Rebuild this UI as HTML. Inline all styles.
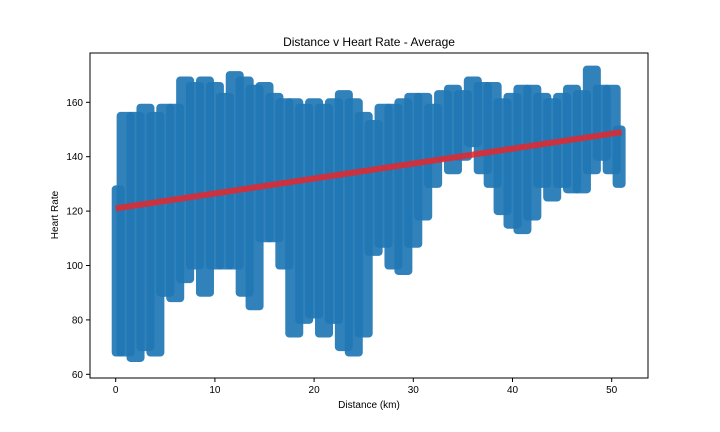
<!DOCTYPE html>
<html><head><meta charset="utf-8"><style>
html,body{margin:0;padding:0;background:#fff;}
svg{display:block;font-family:"Liberation Sans","DejaVu Sans",sans-serif;}
</style></head><body>
<svg id="chart" width="720" height="432" viewBox="0 0 720 432">
<text x="369" y="46" font-size="12" text-anchor="middle">Distance v Heart Rate - Average</text>
<g id="marks"></g>
<g id="axes"></g>
<text x="369" y="408" font-size="10" text-anchor="middle">Distance (km)</text>
<text x="58" y="215" font-size="10" text-anchor="middle" transform="rotate(-90 58 215)">Heart Rate</text>
</svg>
<script>
const binKm = [0,1,2,3,4,5,6,7,8,9,10,11,12,13,14,15,16,17,18,19,20,21,22,23,24,25,26,27,28,29,30,31,32,33,34,35,36,37,38,39,40,41,42,43,44,45,46,47,48,49,50,51];
const hrLow = [68,68,66,70,68,90,88,95,100,90,100,100,100,90,85,110,110,100,75,80,82,75,80,70,68,75,105,108,100,98,108,118,130,140,135,140,145,135,130,120,115,113,118,130,125,130,128,128,135,140,135,130];
const hrHigh = [128,155,155,158,155,158,158,168,166,168,166,162,170,168,165,166,162,160,160,158,160,158,160,163,160,155,152,158,158,160,162,162,158,163,165,163,168,166,166,160,162,165,165,162,160,162,165,163,172,165,165,150];
const fitX = [0,51];
const fitY = [121,149];
const xTicks = [0,10,20,30,40,50];
const yTicks = [60,80,100,120,140,160];

const L=90,T=53,R=648,B=378;
const xs = v => 115.7 + v*9.92;
const ys = v => 374.3 - (v-60)*2.72;
const NS="http://www.w3.org/2000/svg";
const marks=document.getElementById('marks');
const axes=document.getElementById('axes');
function mk(tag,attrs,parent){const e=document.createElementNS(NS,tag);for(const k in attrs)e.setAttribute(k,attrs[k]);parent.appendChild(e);return e;}

for(let i=0;i<binKm.length;i++){
  const last = i===binKm.length-1;
  const x0 = xs(binKm[i]) - (i===0 ? 4 : 9);
  const x1 = xs(binKm[i]) + (last ? 4 : 9);
  const y0 = ys(hrHigh[i]) - 4, y1 = ys(hrLow[i]) + 4;
  const r = mk('rect',{x:x0,y:y0,width:x1-x0,height:y1-y0,rx:4,fill:'#2077b4','fill-opacity':0.92},marks);
  
  
}
const fl = mk('line',{x1:xs(fitX[0]),y1:ys(fitY[0]),x2:xs(fitX[1]),y2:ys(fitY[1]),stroke:'#e8262b','stroke-opacity':0.85,'stroke-width':6},marks);



const fr = mk('rect',{x:L,y:T,width:R-L,height:B-T,fill:'none',stroke:'#000','stroke-width':1},axes);


xTicks.forEach(t=>{
  mk('line',{x1:xs(t),x2:xs(t),y1:B,y2:B+4,stroke:'#000'},axes);
  const tx=mk('text',{x:xs(t),y:B+15,'font-size':10,'text-anchor':'middle'},axes);
  tx.textContent=t;
  
  
});
yTicks.forEach(t=>{
  mk('line',{x1:L-4,x2:L,y1:ys(t),y2:ys(t),stroke:'#000'},axes);
  const tx=mk('text',{x:L-7,y:ys(t)+3.5,'font-size':10,'text-anchor':'end'},axes);
  tx.textContent=t;
  
  
});
</script>
</body></html>
